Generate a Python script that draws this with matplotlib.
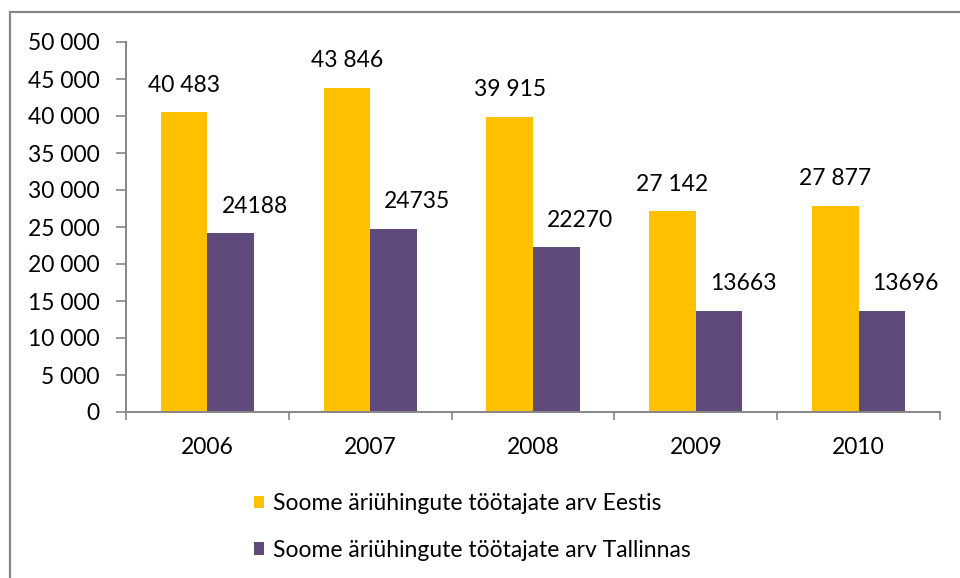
import matplotlib
matplotlib.use("Agg")
import matplotlib.pyplot as plt
from matplotlib.patches import Rectangle
from matplotlib.ticker import FuncFormatter, FixedLocator
import numpy as np

years = ["2006", "2007", "2008", "2009", "2010"]
eestis = [40483, 43846, 39915, 27142, 27877]
tallinnas = [24188, 24735, 22270, 13663, 13696]
eestis_labels = ["40 483", "43 846", "39 915", "27 142", "27 877"]
tallinnas_labels = ["24188", "24735", "22270", "13663", "13696"]
series_names = ["Soome äriühingute töötajate arv Eestis",
                "Soome äriühingute töötajate arv Tallinnas"]
yticks = list(range(0, 50001, 5000))

plt.rcParams['font.family'] = ['Lato', 'DejaVu Sans']
FS = 16.5
axis_col = "#868686"
c1 = "#FFC000"
c2 = "#604A7B"

fig = plt.figure(figsize=(9.6, 5.78), dpi=100)
fig.patches.append(Rectangle((10/960, -0.5), 2.0, 0.5 + 1 - 12/578, transform=fig.transFigure,
                             facecolor="none", edgecolor=axis_col, linewidth=1.6, zorder=0))
ax = fig.add_axes([126/960, (578-412)/578, (940-126)/960, (412-42)/578])

x = np.arange(len(years))
w = 1/3.5
b1 = ax.bar(x - w/2, eestis, width=w, color=c1, label=series_names[0], zorder=2)
b2 = ax.bar(x + w/2, tallinnas, width=w, color=c2, label=series_names[1], zorder=2)

for xi, v, t in zip(x, eestis, eestis_labels):
    ax.annotate(t, (xi - w/2, v), xytext=(0, 27), textcoords="offset pixels",
                ha="center", va="center", fontsize=FS, color="black")
for xi, v, t in zip(x, tallinnas, tallinnas_labels):
    ax.annotate(t, (xi + w/2, v), xytext=(24, 27), textcoords="offset pixels",
                ha="center", va="center", fontsize=FS, color="black")

ax.set_xlim(-0.5, len(years) - 0.5)
ax.set_ylim(0, 50000)
ax.yaxis.set_major_locator(FixedLocator(yticks))
ax.yaxis.set_major_formatter(FuncFormatter(lambda v, p: f"{int(v):,}".replace(",", " ")))

ax.set_xticks(np.arange(-0.5, len(years), 1.0))
ax.set_xticklabels([])
ax.set_xticks(x, minor=True)
ax.set_xticklabels(years, minor=True)
ax.tick_params(axis="x", which="major", direction="out", length=6, width=1.2, color=axis_col)
ax.tick_params(axis="x", which="minor", length=0, pad=18, labelsize=FS)
ax.tick_params(axis="y", direction="out", length=7, width=1.2, color=axis_col, pad=12, labelsize=FS)

for s in ["top", "right"]:
    ax.spines[s].set_visible(False)
for s in ["left", "bottom"]:
    ax.spines[s].set_color(axis_col)
    ax.spines[s].set_linewidth(1.4)

fig.legend(handles=[b1, b2], loc="center left", bbox_to_anchor=(254/960, 1 - 527/578),
           frameon=False, fontsize=FS, handlelength=0.45, handleheight=0.45,
           handletextpad=0.4, labelspacing=1.1, borderpad=0, borderaxespad=0)

fig.savefig("out.png", dpi=100)
